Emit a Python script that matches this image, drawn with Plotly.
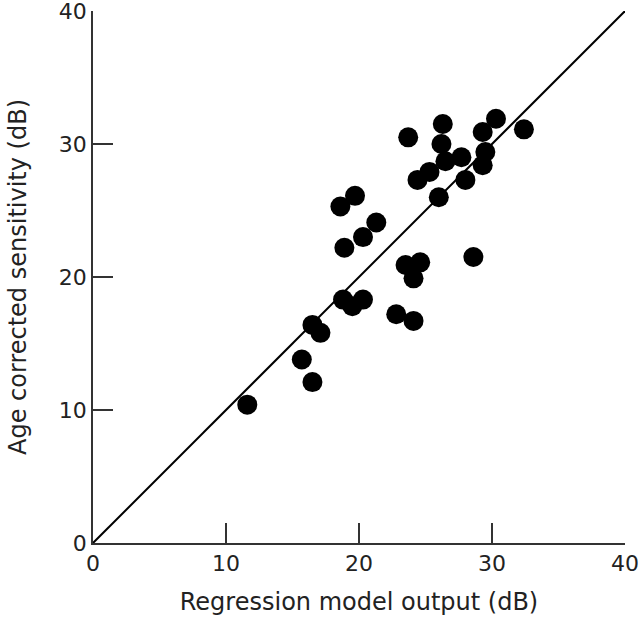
import plotly.graph_objects as go

# Data
model_output = [11.6, 15.7, 16.5, 16.5, 17.1, 18.8, 19.5, 20.3, 22.8, 24.1,
                23.5, 24.6, 24.1, 28.6, 18.9, 20.3, 21.3, 18.6, 19.7, 23.7,
                26.3, 26.2, 26.5, 27.7, 25.3, 24.4, 28.0, 26.0, 29.3, 30.3,
                32.4, 29.5, 29.3]
sensitivity = [10.4, 13.8, 12.1, 16.4, 15.8, 18.3, 17.8, 18.3, 17.2, 16.7,
               20.9, 21.1, 19.9, 21.5, 22.2, 23.0, 24.1, 25.3, 26.1, 30.5,
               31.5, 30.0, 28.7, 29.0, 27.9, 27.3, 27.3, 26.0, 30.9, 31.9,
               31.1, 29.4, 28.4]
identity_x = [0, 40]
identity_y = [0, 40]
tick_vals = [0, 10, 20, 30, 40]

FONT = "DejaVu Sans"

fig = go.Figure()
fig.add_trace(go.Scatter(x=identity_x, y=identity_y, mode="lines",
                         line=dict(color="black", width=2), showlegend=False,
                         hoverinfo="skip", cliponaxis=False))
fig.add_trace(go.Scatter(x=model_output, y=sensitivity, mode="markers",
                         marker=dict(color="black", size=20, line=dict(width=0)),
                         showlegend=False))

axis_common = dict(
    range=[0, 40], tickvals=tick_vals, ticks="inside", ticklen=20, tickwidth=1.5,
    tickcolor="#333333", showline=True, linecolor="#333333", linewidth=1.5,
    showgrid=False, zeroline=False, automargin=False, ticklabeloverflow="allow",
    tickfont=dict(family=FONT, size=22, color="#222222"),
)

fig.update_layout(
    width=640, height=621,
    margin=dict(l=93, r=15, t=11, b=78),
    paper_bgcolor="white", plot_bgcolor="white",
    xaxis=dict(**axis_common,
               title=dict(text="Regression model output (dB)", standoff=18,
                          font=dict(family=FONT, size=24, color="#222222"))),
    yaxis=dict(**axis_common,
               title=dict(text="Age corrected sensitivity (dB)", standoff=25,
                          font=dict(family=FONT, size=24, color="#222222"))),
)

fig.write_html("out.html", config={"displayModeBar": False},
               post_script="document.body.style.margin='0';document.body.style.overflow='hidden';")
